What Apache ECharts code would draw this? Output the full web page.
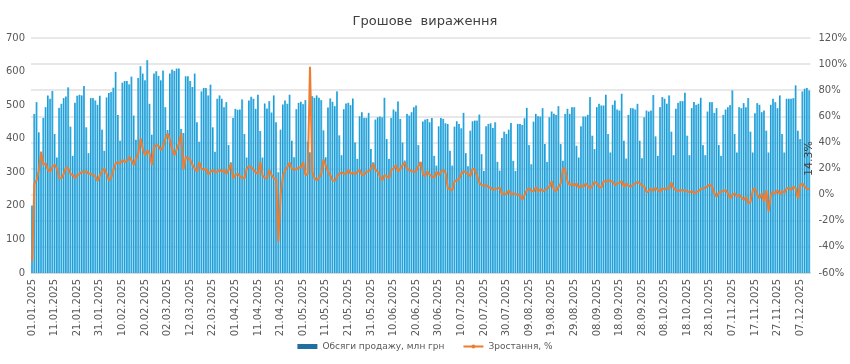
<!DOCTYPE html>
<html><head><meta charset="utf-8">
<script src="https://cdn.jsdelivr.net/npm/echarts@6/dist/echarts.min.js"></script>
<style>html,body{margin:0;padding:0;background:#fff}#c{width:850px;height:364px}</style>
</head><body><div id="c"></div>
<script>
const titleText = 'Грошове  вираження';
const seriesNames = ['Обсяги продажу, млн грн', 'Зростання, %'];
const firstDay = [2025, 0, 1];
const totalGrowthLabel = '14.3%';
const leftTicks = {min: 0, max: 700, step: 100};
const rightTicks = {min: -60, max: 120, step: 20};

// daily sales volume, mln UAH (01.01.2025 - 11.12.2025)
const salesVolume = [
  201, 474, 509, 419, 345,
  462, 494, 529, 519, 542, 414, 344,
  492, 504, 521, 526, 553, 436, 349,
  507, 528, 531, 529, 557, 434, 357,
  521, 521, 514, 501, 528, 427, 364,
  523, 536, 539, 552, 599, 471, 394,
  567, 572, 572, 562, 585, 469, 397,
  581, 616, 594, 574, 634, 504, 412,
  594, 601, 587, 574, 603, 494, 426,
  594, 606, 602, 609, 609, 429, 417,
  586, 586, 572, 554, 594, 449, 391,
  541, 551, 551, 529, 561, 434, 361,
  519, 529, 519, 494, 509, 381, 330,
  462, 489, 486, 487, 517, 414, 344,
  514, 525, 519, 489, 531, 423, 344,
  505, 490, 512, 478, 529, 449, 300,
  427, 502, 514, 504, 531, 394, 345,
  488, 507, 510, 503, 515, 391, 360,
  527, 522, 529, 522, 515, 425, 345,
  493, 520, 510, 497, 541, 410, 351,
  488, 505, 507, 500, 520, 389, 340,
  467, 479, 462, 462, 477, 369, 330,
  457, 464, 466, 464, 522, 399, 340,
  462, 487, 481, 511, 459, 389, 335,
  474, 469, 479, 494, 499, 381, 330,
  451, 457, 459, 449, 462, 349, 320,
  437, 462, 459, 446, 444, 364, 320,
  436, 452, 444, 431, 477, 357, 318,
  424, 452, 454, 454, 472, 354, 304,
  437, 444, 446, 432, 449, 331, 305,
  402, 421, 414, 427, 447, 334, 304,
  444, 444, 441, 461, 492, 381, 324,
  451, 474, 467, 466, 491, 384, 331,
  464, 481, 474, 471, 497, 384, 334,
  474, 489, 474, 494, 494, 379, 344,
  437, 466, 466, 471, 524, 409, 369,
  494, 504, 499, 499, 531, 414, 359,
  501, 514, 487, 484, 534, 394, 341,
  471, 491, 491, 487, 504, 394, 342,
  464, 484, 481, 484, 530, 407, 349,
  494, 524, 519, 504, 529, 421, 351,
  489, 507, 512, 512, 537, 409, 351,
  491, 509, 501, 504, 522, 381, 351,
  481, 509, 509, 477, 491, 381, 349,
  471, 487, 494, 500, 544, 414, 359,
  494, 491, 506, 494, 521, 421, 359,
  476, 506, 501, 479, 484, 424, 359,
  501, 519, 509, 491, 529, 414, 359,
  519, 519, 519, 521, 559, 424, 399,
  541, 549, 551, 544
];

// daily growth, %
const growthPct = [
  -51, 8.6, 11, 19, 33, 23, 24, 19, 17.6, 21.4,
  23, 20, 12.5, 12.5, 16, 21, 20, 16, 15, 12.5,
  15, 16, 17.6, 17, 18, 16, 16, 15, 14, 10.4,
  15, 18, 20, 16, 11, 13, 19, 24, 25, 24,
  26.5, 25, 25.7, 29, 26.5, 22.6, 27.8, 31.6, 43, 35,
  30, 34, 31.6, 22.6, 36.7, 38, 37.4, 34, 36.7, 43,
  47, 41.8, 35, 30, 35, 39, 47, 19, 29, 28,
  26.5, 22.6, 20, 17.6, 25, 20, 19, 20, 15.5, 17.6,
  19, 17, 17.6, 19, 17.6, 19, 16, 19, 24, 12.5,
  15, 16, 14, 13, 12.5, 20, 22, 21, 19, 17,
  16, 25, 14.5, 13, 12.5, 19, 15, 12.5, 12, -36,
  0, 14, 19, 21, 24.7, 20, 19, 19.5, 20.6, 21,
  25, 15, 16, 98, 17.6, 12.5, 11, 13, 16, 27,
  22, 17.6, 15, 11, 10.4, 14, 16, 17, 16, 16,
  19, 16, 17, 15.5, 17.6, 19, 15, 15.5, 17.6, 18,
  20, 24, 19, 17.6, 14, 11, 15, 14, 12.5, 19,
  20, 22.6, 17.6, 20, 22.6, 24.7, 19, 19, 18, 17.6,
  18, 22, 25, 16, 14, 18, 15, 14, 13, 17.6,
  15, 17.6, 19, 17, 5, 4, 3.5, 10.4, 11, 12,
  16, 18, 17, 16, 14, 20, 19, 14, 9, 7.3,
  6.8, 7.3, 6, 5.3, 3.5, 4.5, 4.8, 5.3, 0, 1,
  0.2, 3.5, 0, 1, 0.5, 0.2, -0.8, -4, 0, 3.5,
  4.8, 3, 2.3, 6, 2.3, 4.3, 2.8, 3.5, 4.8, 6,
  10.4, 3.5, 2.8, 6, 8.6, 20.6, 19, 10, 7.3, 8.6,
  6.8, 8.6, 5.3, 7.3, 6, 8.6, 6.8, 4.8, 7, 9.9,
  8.6, 6, 5.3, 10.4, 9.9, 11, 10.5, 9.9, 7.3, 8.6,
  9, 10.4, 6, 8.6, 7, 6, 7.9, 8.5, 9.9, 8.6,
  7, 6, 1.7, 3, 4.8, 2.8, 5.3, 3.5, 2.3, 4.8,
  4, 5.3, 4.3, 9.4, 5, 3.5, 2.8, 3.5, 3.2, 3.5,
  2.5, 1.7, 2.8, 1, 2, 2.8, 4.3, 4.8, 5.3, 6.5,
  7.9, 6, 1, -1.6, 1.7, 2.2, 2.8, 3.5, 1, -2.9,
  0, 1, -1.6, 0, -2, -4, -1.6, -6.7, -5.4, 3.5,
  4.8, 0, -2.9, 1, -5.4, 3.5, -13, 0, 2.3, 1,
  3.5, 0.2, 2.8, 1.5, 4.8, 5.3, 3.5, 6, 4.8, -2.9,
  7.3, 8.6, 6, 4.3, 4.3
];

function pad(n) { return n < 10 ? '0' + n : '' + n; }
const categories = salesVolume.map(function (_, i) {
  const d = new Date(Date.UTC(firstDay[0], firstDay[1], firstDay[2] + i));
  return pad(d.getUTCDate()) + '.' + pad(d.getUTCMonth() + 1) + '.' + d.getUTCFullYear();
});

const lastIdx = growthPct.length - 1;
const lineData = growthPct.map(function (v, i) {
  if (i !== lastIdx) return {value: v, symbol: 'none'};
  return {
    value: v, symbol: 'circle', symbolSize: 1,
    label: {
      show: true, formatter: totalGrowthLabel, rotate: 90, position: [0, -30],
      align: 'center', verticalAlign: 'middle',
      fontSize: 11, color: '#404040', fontFamily: 'DejaVu Sans'
    }
  };
});

const font = 'DejaVu Sans';
const chart = echarts.init(document.getElementById('c'), null, {renderer: 'canvas'});
chart.setOption({
  animation: false,
  backgroundColor: '#ffffff',
  title: {
    text: titleText, left: 'center', top: 10,
    textStyle: {fontSize: 13, fontWeight: 'normal', color: '#404040', fontFamily: font}
  },
  legend: {
    bottom: 8, left: 'center', itemWidth: 20, itemHeight: 5, itemGap: 18,
    textStyle: {fontSize: 9, color: '#595959', fontFamily: font},
    data: [
      {name: seriesNames[0], icon: 'rect', itemStyle: {color: '#1f6f9f'}},
      {name: seriesNames[1]}
    ]
  },
  grid: {left: 31, right: 38, top: 38, bottom: 91},
  xAxis: {
    type: 'category', data: categories, boundaryGap: true,
    axisTick: {show: false},
    axisLine: {lineStyle: {color: '#d9d9d9'}},
    axisLabel: {interval: 9, rotate: 90, fontSize: 10, color: '#595959', fontFamily: font, margin: 6}
  },
  yAxis: [
    {
      type: 'value', min: leftTicks.min, max: leftTicks.max, interval: leftTicks.step,
      splitLine: {show: false}, axisLine: {show: false}, axisTick: {show: false},
      axisLabel: {fontSize: 10, color: '#595959', fontFamily: font, margin: 6}
    },
    {
      type: 'value', min: rightTicks.min, max: rightTicks.max, interval: rightTicks.step,
      splitLine: {lineStyle: {color: '#e1e1e1', width: 1.5}},
      axisLine: {show: false}, axisTick: {show: false},
      axisLabel: {formatter: '{value}%', fontSize: 10, color: '#595959', fontFamily: font, margin: 8}
    }
  ],
  series: [
    {
      name: seriesNames[0], type: 'bar', yAxisIndex: 0, data: salesVolume,
      barCategoryGap: '18%',
      itemStyle: {
        color: new echarts.graphic.LinearGradient(0, 0, 1, 0, [
          {offset: 0, color: '#0a8fcf'}, {offset: 0.5, color: '#29a6dc'}, {offset: 1, color: '#62c2ea'}
        ])
      }
    },
    {
      name: seriesNames[1], type: 'line', yAxisIndex: 1, data: lineData,
      symbol: 'none', showSymbol: true, showAllSymbol: true, z: 5,
      lineStyle: {color: '#ed7d31', width: 2},
      itemStyle: {color: '#ed7d31'}
    }
  ]
});
</script>
</body></html>
